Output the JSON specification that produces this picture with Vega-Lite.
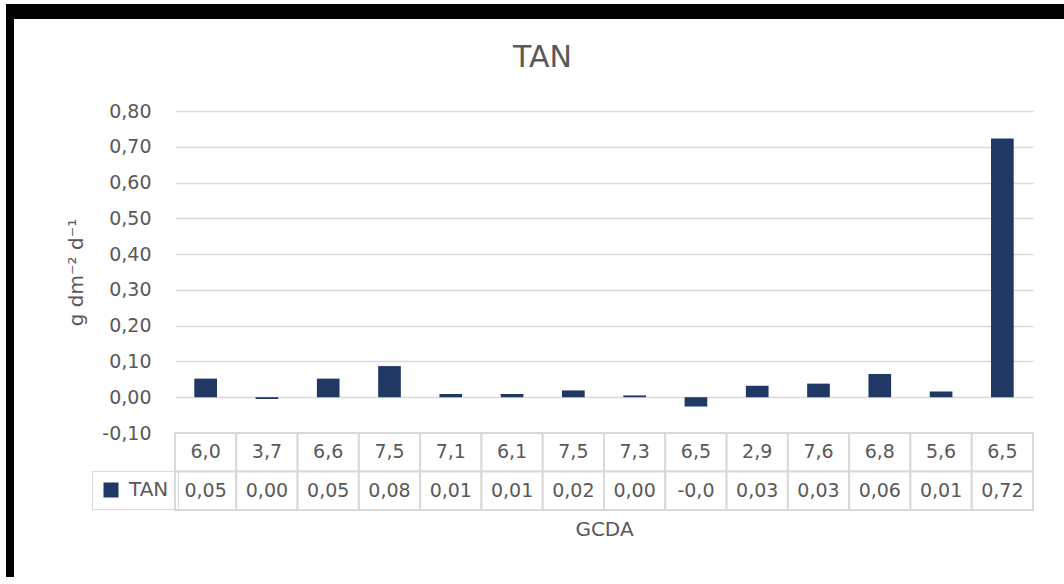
{
  "$schema": "https://vega.github.io/schema/vega-lite/v6.json",
  "background": "white",
  "padding": {"left": 6, "top": 4, "right": 0, "bottom": 0},
  "bounds": "flush",
  "spacing": 0,
  "config": {
    "font": "DejaVu Sans",
    "view": {"stroke": null},
    "axis": {"labelColor": "#595959", "titleColor": "#595959", "titleFontWeight": "normal"}
  },
  "datasets": {
    "tan": [
      {"id": 1, "gcda": "6,0", "label": "0,05", "value": 0.052},
      {"id": 2, "gcda": "3,7", "label": "0,00", "value": -0.005},
      {"id": 3, "gcda": "6,6", "label": "0,05", "value": 0.052},
      {"id": 4, "gcda": "7,5", "label": "0,08", "value": 0.087},
      {"id": 5, "gcda": "7,1", "label": "0,01", "value": 0.009},
      {"id": 6, "gcda": "6,1", "label": "0,01", "value": 0.009},
      {"id": 7, "gcda": "7,5", "label": "0,02", "value": 0.019},
      {"id": 8, "gcda": "7,3", "label": "0,00", "value": 0.005},
      {"id": 9, "gcda": "6,5", "label": "-0,0", "value": -0.026},
      {"id": 10, "gcda": "2,9", "label": "0,03", "value": 0.032},
      {"id": 11, "gcda": "7,6", "label": "0,03", "value": 0.038},
      {"id": 12, "gcda": "6,8", "label": "0,06", "value": 0.065},
      {"id": 13, "gcda": "5,6", "label": "0,01", "value": 0.016},
      {"id": 14, "gcda": "6,5", "label": "0,72", "value": 0.723}
    ]
  },
  "vconcat": [
    {
      "width": 1058, "height": 8,
      "data": {"values": []},
      "mark": "point",
      "encoding": {},
      "view": {"fill": "black", "stroke": null}
    },
    {
      "bounds": "flush",
      "spacing": 161,
      "hconcat": [
        {
          "width": 8, "height": 565,
          "data": {"values": []},
          "mark": "point",
          "encoding": {},
          "view": {"fill": "black", "stroke": null}
        },
        {
          "bounds": "flush",
          "spacing": 0,
          "vconcat": [
            {
              "width": 858, "height": 99,
              "data": {"values": []},
              "mark": "point",
              "encoding": {}
            },
            {
              "width": 858, "height": 322,
              "data": {"name": "tan"},
              "title": {
                "text": "TAN", "fontSize": 30, "color": "#595959", "fontWeight": "normal",
                "anchor": "middle", "frame": "group", "dx": -61.5, "offset": 5, "baseline": "alphabetic"
              },
              "mark": {"type": "bar", "width": {"band": 0.37}},
              "encoding": {
                "x": {"field": "id", "type": "ordinal", "scale": {"paddingInner": 0, "paddingOuter": 0}, "axis": null},
                "y": {
                  "field": "value", "type": "quantitative",
                  "scale": {"domain": [-0.1, 0.8], "nice": false, "zero": false},
                  "axis": {
                    "values": [-0.1, 0, 0.1, 0.2, 0.3, 0.4, 0.5, 0.6, 0.7, 0.8],
                    "labelExpr": "replace(replace(format(datum.value, '.2f'), '.', ','), '\u2212', '-')",
                    "domain": false, "ticks": false,
                    "labelPadding": 24, "labelFontSize": 19,
                    "gridColor": "#d9d9d9", "gridWidth": 1.5,
                    "title": "g dm⁻² d⁻¹", "titleFontSize": 20, "titlePadding": 15
                  }
                },
                "color": {
                  "datum": "TAN",
                  "scale": {"range": ["#1F3864"]},
                  "legend": {
                    "orient": "none", "legendX": 86, "legendY": 467,
                    "title": null, "direction": "vertical",
                    "symbolType": "square", "symbolSize": 225, "symbolStrokeWidth": 0,
                    "labelFontSize": 20, "labelColor": "#595959", "labelOffset": 8,
                    "strokeColor": "#d9d9d9", "padding": 9
                  }
                }
              }
            },
            {
              "width": 858, "height": 77,
              "data": {"name": "tan"},
              "transform": [{"fold": ["gcda", "label"], "as": ["row", "cell"]}],
              "encoding": {
                "x": {
                  "field": "id", "type": "ordinal",
                  "scale": {"paddingInner": 0, "paddingOuter": 0},
                  "axis": {"labels": false, "ticks": false, "domain": false, "title": "GCDA", "titleFontSize": 20, "titlePadding": 9}
                },
                "y": {
                  "field": "row", "type": "nominal",
                  "scale": {"domain": ["gcda", "label"], "paddingInner": 0, "paddingOuter": 0},
                  "axis": null
                }
              },
              "layer": [
                {"mark": {"type": "rect", "fill": "white", "stroke": "#d9d9d9", "strokeWidth": 2}},
                {
                  "mark": {"type": "text", "fontSize": 19, "color": "#595959"},
                  "encoding": {"text": {"field": "cell"}}
                }
              ]
            }
          ]
        }
      ]
    },
    {
      "width": 1058, "height": 7,
      "data": {"values": []},
      "mark": "point",
      "encoding": {},
      "view": {"fill": "black", "stroke": null}
    }
  ]
}
